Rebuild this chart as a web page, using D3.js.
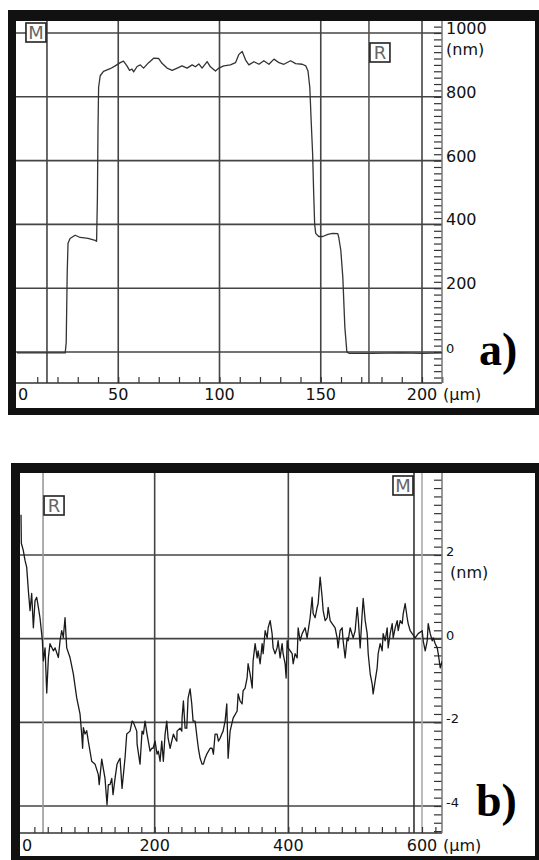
<!DOCTYPE html>
<html>
<head>
<meta charset="utf-8">
<script src="https://cdn.jsdelivr.net/npm/d3@7"></script>
<style>
  body { margin: 0; background: #fff; }
  svg { display: block; }
  text { font-family: "DejaVu Sans", Verdana, sans-serif; }
</style>
</head>
<body>
<script>
// profile a) : [position µm, height nm]
const profileA = [
  [0, -3], [18.8, -3], [23.8, -3], [24.3, 30], [24.8, 250], [25.2, 341], [26.2, 356],
  [28.7, 366], [31.2, 359], [35.1, 356], [38.6, 350], [39.3, 347], [39.7, 480],
  [40.0, 700], [40.3, 830], [41.1, 866], [42.7, 880], [46.0, 888], [48.5, 897],
  [51.0, 907], [52.6, 912], [54.3, 897], [55.6, 883], [56.8, 887], [57.6, 878],
  [59.3, 895], [60.9, 900], [62.5, 890], [65.0, 907], [67.5, 921], [70.0, 920],
  [71.6, 905], [74.1, 890], [76.6, 883], [79.1, 890], [81.5, 897], [84.0, 890],
  [86.5, 900], [88.1, 894], [89.8, 903], [91.4, 890], [93.9, 910], [95.5, 894],
  [98.0, 881], [99.7, 890], [102.1, 897], [105.4, 900], [107.9, 907], [109.6, 933],
  [111.2, 942], [112.9, 915], [114.5, 900], [117.0, 910], [119.5, 902], [121.9, 913],
  [124.4, 902], [126.9, 918], [129.4, 907], [131.8, 902], [135.1, 913], [137.6, 904],
  [140.9, 902], [142.6, 897], [143.7, 881], [144.6, 829], [145.3, 720], [146.0, 620],
  [146.5, 500], [147.0, 400], [147.5, 372], [149.0, 362], [151.0, 362], [153.5, 369],
  [155.9, 372], [158.4, 371], [158.9, 359], [159.9, 319], [160.9, 234], [161.9, 78],
  [162.9, 0], [163.9, -4], [175, -4], [190, -3], [200, -4], [210, -3]
];

// profile b) : [position µm, height nm]
const profileB = [
  [0.0, 2.96], [0.5, 2.28], [3.4, 2.11], [6.0, 1.87], [8.5, 1.71], [11.0, 1.15],
  [13.5, 0.67], [16.0, 1.08], [18.5, 0.26], [21.0, 0.91], [23.5, 0.99], [26.0, 0.75],
  [28.4, 0.50], [32.0, -0.05], [33.4, -0.53], [36.0, -0.22], [38.5, -1.30], [41.0, -0.45],
  [43.4, -0.12], [48.4, -0.29], [51.0, -0.22], [55.9, -0.45], [58.4, -0.05], [60.9, 0.19],
  [63.3, 0.03], [65.9, 0.50], [68.4, -0.22], [73.3, -0.45], [78.3, -0.84], [83.3, -1.41],
  [88.3, -1.80], [90.8, -2.28], [92.2, -2.62], [93.3, -2.13], [95.8, -2.28], [98.3, -2.20],
  [100.7, -2.45], [105.8, -2.93], [110.8, -3.00], [115.7, -3.25], [117.0, -3.49],
  [120.8, -2.88], [125.7, -3.34], [128.7, -3.97], [130.7, -3.49], [133.2, -3.49],
  [135.8, -3.34], [137.7, -3.73], [140.7, -3.34], [143.7, -3.00], [145.7, -2.93],
  [148.2, -2.86], [151.2, -3.58], [155.7, -2.84], [158.2, -2.28], [163.2, -2.21],
  [166.2, -1.97], [168.1, -2.00], [173.2, -2.21], [173.7, -2.52], [178.1, -3.00],
  [181.1, -2.21], [183.1, -2.28], [185.6, -1.97], [188.6, -2.28], [193.1, -2.69],
  [195.7, -2.62], [197.6, -2.62], [200.6, -2.45], [203.6, -2.76], [205.5, -2.69],
  [208.1, -2.93], [210.6, -2.45], [213.0, -2.93], [215.6, -2.28], [218.1, -1.97],
  [220.1, -2.38], [223.1, -2.62], [228.0, -2.28], [230.5, -2.38], [233.1, -2.45],
  [233.5, -2.21], [238.0, -2.14], [240.6, -2.21], [241.0, -1.90], [243.0, -1.49],
  [245.5, -2.14], [248.0, -2.14], [250.0, -1.42], [253.0, -1.20], [255.5, -1.56],
  [257.5, -1.97], [260.5, -1.97], [263.5, -2.38], [265.4, -2.62], [268.0, -2.86],
  [271.0, -3.00], [272.9, -3.00], [275.4, -2.86], [278.0, -2.76], [283.0, -2.62],
  [286.0, -2.62], [287.9, -2.76], [290.4, -2.28], [293.4, -2.28], [295.4, -2.45],
  [297.9, -2.38], [300.4, -2.28], [302.4, -2.21], [305.4, -1.97], [307.9, -1.56],
  [309.9, -2.86], [312.9, -2.21], [317.4, -1.90], [323.4, -1.73], [324.9, -1.32],
  [327.8, -1.49], [330.8, -1.56], [332.3, -1.25], [335.3, -1.18], [338.3, -0.94],
  [339.8, -0.60], [342.8, -0.84], [345.9, -1.18], [347.3, -0.53], [350.3, -0.12],
  [353.3, -0.46], [354.8, -0.29], [357.8, -0.60], [360.8, -0.12], [362.3, -0.36],
  [365.3, 0.19], [368.3, 0.02], [369.8, 0.26], [372.8, 0.43], [375.7, 0.12],
  [377.2, -0.22], [380.2, -0.36], [383.2, -0.22], [384.7, -0.05], [387.7, -0.46],
  [390.7, -0.12], [392.2, -0.36], [395.2, -0.60], [396.7, -0.94], [398.2, -0.05],
  [399.7, -0.22], [405.7, -0.36], [407.2, -0.60], [410.2, -0.36], [413.2, -0.46],
  [414.7, 0.26], [417.7, -0.05], [420.7, 0.12], [425.1, 0.26], [428.1, 0.02],
  [432.6, 0.50], [435.6, 0.99], [437.1, 0.60], [440.1, 0.50], [443.1, 0.75],
  [444.6, 0.84], [447.6, 1.47], [450.6, 0.99], [452.1, 0.67], [455.1, 0.43],
  [458.1, 0.50], [459.6, 0.75], [462.6, 0.43], [465.6, 0.36], [470.0, 0.26],
  [473.0, 0.02], [474.5, -0.22], [477.5, 0.19], [480.5, 0.26], [482.0, -0.05],
  [485.0, -0.46], [488.0, 0.02], [489.5, -0.05], [492.5, 0.26], [497.0, 0.02],
  [500.0, 0.19], [503.0, 0.75], [504.5, 0.50], [507.5, -0.22], [510.5, 0.60],
  [512.0, 0.96], [515.0, 0.43], [518.0, 0.12], [519.5, -0.36], [522.5, -0.84],
  [525.4, -1.08], [526.9, -1.32], [529.9, -1.01], [532.9, -0.70], [534.4, -0.36],
  [537.4, -0.12], [540.4, -0.29], [541.9, 0.12], [544.9, -0.05], [547.9, 0.26],
  [549.4, -0.22], [552.4, 0.12], [555.4, 0.36], [556.9, 0.02], [559.9, 0.26],
  [562.9, 0.43], [564.4, 0.19], [567.4, 0.43], [570.4, 0.36], [571.9, 0.60],
  [574.8, 0.84], [577.8, 0.50], [579.3, 0.36], [582.3, 0.19], [585.3, 0.12],
  [589.8, 0.02], [594.3, 0.12], [600.3, 0.19], [601.8, -0.05], [604.8, -0.29],
  [607.8, -0.05], [609.3, 0.36], [612.3, 0.12], [615.3, -0.05], [616.8, 0.02],
  [619.8, -0.12], [622.8, -0.22], [624.3, -0.36], [627.3, -0.70], [630.3, -0.53]
];

// axis labels / grid values
const xLabelsA = [0, 50, 100, 150, 200];
const yLabelsA = [0, 200, 400, 600, 800, 1000];
const xLabelsB = [0, 200, 400, 600];
const yLabelsB = [-4, -2, 0, 2];
const cursorsA = [{ name: "M", at: 14.8 }, { name: "R", at: 173.8 }];
const cursorsB = [{ name: "R", at: 33 }, { name: "M", at: 588 }];

const svg = d3.select("body").append("svg")
  .attr("width", 539)
  .attr("height", 860);

function drawPanel(p) {
  const g = svg.append("g");
  const L = p.plot[0], T = p.plot[1], R = p.plot[2], B = p.plot[3];

  // thick black frame
  g.append("rect")
    .attr("x", p.outer[0]).attr("y", p.outer[1])
    .attr("width", p.outer[2] - p.outer[0]).attr("height", p.outer[3] - p.outer[1])
    .attr("fill", "#111");
  g.append("rect")
    .attr("x", p.inner[0]).attr("y", p.inner[1])
    .attr("width", p.inner[2] - p.inner[0]).attr("height", p.inner[3] - p.inner[1])
    .attr("fill", "#fff");

  const x = d3.scaleLinear().domain(p.xDomain).range(p.xRange);
  const y = d3.scaleLinear().domain(p.yDomain).range(p.yRange);

  // grid
  g.selectAll(".hgrid").data(p.yLabels).join("line")
    .attr("x1", L).attr("x2", R)
    .attr("y1", d => y(d)).attr("y2", d => y(d))
    .attr("stroke", "#444").attr("stroke-width", 1.6);

  g.selectAll(".vgrid").data(p.xLabels.filter(d => d > 0)).join("line")
    .attr("x1", d => x(d)).attr("x2", d => x(d))
    .attr("y1", T).attr("y2", B)
    .attr("stroke", d => p.gridColor(d)).attr("stroke-width", 1.6);

  // cursor lines
  g.selectAll(".cursor").data(p.cursors).join("line")
    .attr("x1", d => x(d.at)).attr("x2", d => x(d.at))
    .attr("y1", T).attr("y2", B)
    .attr("stroke", d => p.cursorStyle[d.name].color).attr("stroke-width", 1.6);

  // bottom axis (ticks pointing up)
  const bx = g.append("g")
    .attr("transform", `translate(0,${B})`)
    .attr("color", "#333")
    .call(d3.axisTop(x).tickValues(p.minorX).tickSize(6).tickSizeOuter(0).tickFormat(""));
  bx.select(".domain").remove();
  bx.selectAll("line").attr("stroke-width", 1.2);
  g.append("line").attr("x1", L).attr("x2", R).attr("y1", B).attr("y2", B)
    .attr("stroke", "#333").attr("stroke-width", 1.6);

  // right ruler (ticks pointing left)
  const ry = g.append("g")
    .attr("transform", `translate(${R},0)`)
    .attr("color", "#333")
    .call(d3.axisLeft(y).tickValues(p.minorY).tickSize(8).tickSizeOuter(0).tickFormat(""));
  ry.select(".domain").remove();
  ry.selectAll("line").attr("stroke-width", 1.2);
  g.append("line").attr("x1", R).attr("x2", R).attr("y1", T).attr("y2", B)
    .attr("stroke", "#777").attr("stroke-width", 1.5);

  // profile trace
  const clipId = "clip" + p.id;
  g.append("clipPath").attr("id", clipId)
    .append("rect").attr("x", L).attr("y", T).attr("width", R - L).attr("height", B - T);
  g.append("path")
    .datum(p.profile)
    .attr("clip-path", `url(#${clipId})`)
    .attr("fill", "none")
    .attr("stroke", p.traceColor)
    .attr("stroke-width", p.traceWidth)
    .attr("stroke-linejoin", "round")
    .attr("d", d3.line().x(d => x(d[0])).y(d => y(d[1])));

  // cursor marker boxes
  p.cursors.forEach(c => {
    const s = p.cursorStyle[c.name];
    const cx = x(c.at);
    const bx0 = s.side === "left" ? cx - 21 : cx + 1;
    g.append("rect")
      .attr("x", bx0).attr("y", s.top).attr("width", 20).attr("height", 19)
      .attr("fill", "#fff").attr("stroke", "#222").attr("stroke-width", 1.6);
    g.append("text")
      .attr("x", bx0 + 10).attr("y", s.top + 16)
      .attr("text-anchor", "middle")
      .attr("font-size", 18).attr("fill", "#666")
      .text(c.name);
  });

  // x labels
  g.selectAll(".xlab").data(p.xLabels).join("text")
    .attr("x", d => d === 0 ? x(d) + 1 : x(d))
    .attr("y", p.xLabelY)
    .attr("text-anchor", d => d === 0 ? "start" : "middle")
    .attr("font-size", 16).attr("fill", "#111")
    .text(d => d);
  g.append("text")
    .attr("x", R + 1).attr("y", p.xLabelY)
    .attr("font-size", 16).attr("fill", "#111")
    .text("(\u00b5m)");

  // y labels
  g.selectAll(".ylab").data(p.yLabels).join("text")
    .attr("x", R + 4)
    .attr("y", d => y(d) + 1)
    .attr("font-size", d => p.yLabelSize(d)).attr("fill", "#111")
    .text(d => d);
  g.append("text")
    .attr("x", p.unitY[0]).attr("y", p.unitY[1])
    .attr("font-size", 16).attr("fill", "#111")
    .text("(nm)");

  // panel letter
  g.append("text")
    .attr("x", p.letter[0]).attr("y", p.letter[1])
    .style("font-family", "'Liberation Serif', 'Times New Roman', serif")
    .attr("font-weight", "bold")
    .attr("font-size", 46).attr("fill", "#000")
    .text(p.letter[2]);
}

drawPanel({
  id: "A",
  outer: [8, 10, 539, 415],
  inner: [16, 21, 535, 408],
  plot: [16, 21, 442, 383],
  xDomain: [0, 200], xRange: [17, 422],
  yDomain: [0, 1000], yRange: [352, 33],
  xLabels: xLabelsA, yLabels: yLabelsA,
  minorX: d3.range(10, 211, 10),
  minorY: d3.range(-80, 1040, 20),
  gridColor: () => "#444",
  cursors: cursorsA,
  cursorStyle: { M: { side: "left", top: 23, color: "#444" }, R: { side: "right", top: 43, color: "#555" } },
  profile: profileA,
  traceColor: "#333", traceWidth: 1.3,
  xLabelY: 400,
  yLabelSize: d => d === 0 ? 13 : 16,
  unitY: [446, 55],
  letter: [479, 365, "a)"]
});

drawPanel({
  id: "B",
  outer: [11, 463, 539, 860],
  inner: [20, 473, 535, 856],
  plot: [20, 473, 442, 833],
  xDomain: [0, 600], xRange: [21, 422],
  yDomain: [-4, 2], yRange: [806, 555],
  xLabels: xLabelsB, yLabels: yLabelsB,
  minorX: d3.range(20, 631, 20),
  minorY: d3.range(-23, 20).map(i => i * 0.2),
  gridColor: d => d === 600 ? "#aaa" : "#444",
  cursors: cursorsB,
  cursorStyle: { R: { side: "right", top: 496, color: "#999" }, M: { side: "left", top: 476, color: "#333" } },
  profile: profileB,
  traceColor: "#1a1a1a", traceWidth: 1.3,
  xLabelY: 851,
  yLabelSize: () => 13,
  unitY: [450, 578],
  letter: [476, 816, "b)"]
});
</script>
</body>
</html>
